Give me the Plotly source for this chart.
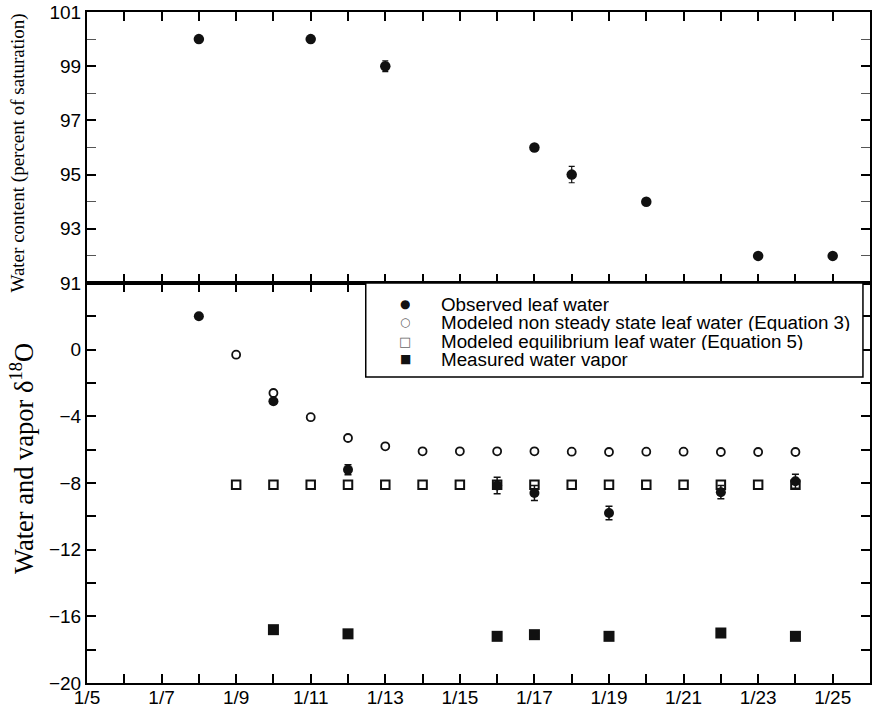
import plotly.graph_objects as go

# ---------------- data ----------------
# Top panel: leaf water content (percent of saturation)
wc_dates = ["1/8", "1/11", "1/13", "1/17", "1/18", "1/20", "1/23", "1/25"]
wc_values = [100.0, 100.0, 99.0, 96.0, 95.0, 94.0, 92.0, 92.0]
wc_err = [0.05, 0.05, 0.2, 0.05, 0.3, 0.05, 0.05, 0.05]

# Bottom panel: delta 18O
obs_dates = ["1/8", "1/10", "1/12", "1/16", "1/17", "1/19", "1/22", "1/24"]
obs_values = [2.0, -3.1, -7.2, -8.15, -8.6, -9.8, -8.55, -7.9]
obs_err = [0.1, 0.15, 0.3, 0.5, 0.45, 0.4, 0.4, 0.42]

nss_dates = ["1/9", "1/10", "1/11", "1/12", "1/13", "1/14", "1/15", "1/16",
             "1/17", "1/18", "1/19", "1/20", "1/21", "1/22", "1/23", "1/24"]
nss_values = [-0.3, -2.6, -4.05, -5.3, -5.8, -6.1, -6.1, -6.1,
              -6.1, -6.12, -6.14, -6.12, -6.12, -6.14, -6.14, -6.14]

eq_dates = ["1/9", "1/10", "1/11", "1/12", "1/13", "1/14", "1/15", "1/16",
            "1/17", "1/18", "1/19", "1/20", "1/21", "1/22", "1/23", "1/24"]
eq_values = [-8.1, -8.1, -8.1, -8.1, -8.1, -8.1, -8.1, -8.1,
             -8.1, -8.1, -8.1, -8.1, -8.1, -8.1, -8.1, -8.1]

vap_dates = ["1/10", "1/12", "1/16", "1/17", "1/19", "1/22", "1/24"]
vap_values = [-16.8, -17.05, -17.2, -17.1, -17.2, -17.0, -17.2]

x_tick_labels = ["1/5", "1/7", "1/9", "1/11", "1/13", "1/15", "1/17",
                 "1/19", "1/21", "1/23", "1/25"]
wc_tick_labels = ["91", "93", "95", "97", "99", "101"]
d18_tick_labels = ["-20", "-16", "-12", "-8", "-4", "0"]

legend_labels = ["Observed leaf water",
                 "Modeled non steady state leaf water (Equation 3)",
                 "Modeled equilibrium leaf water (Equation 5)",
                 "Measured water vapor"]


def day(s):
    return int(s.split("/")[1])


INK = "#111111"
SANS = "Liberation Sans, Arial, sans-serif"
SERIF = "Liberation Serif, Times New Roman, serif"

fig = go.Figure()

# top panel
fig.add_trace(go.Scatter(
    x=[day(d) for d in wc_dates], y=wc_values, mode="markers",
    name="Water content", xaxis="x2", yaxis="y2",
    marker=dict(symbol="circle", size=10.5, color=INK, line=dict(width=0)),
    error_y=dict(type="data", array=wc_err, visible=True, color=INK,
                 thickness=1.2, width=3),
    showlegend=False))

# bottom panel
fig.add_trace(go.Scatter(
    x=[day(d) for d in eq_dates], y=eq_values, mode="markers",
    name=legend_labels[2],
    marker=dict(symbol="square-open", size=8.5, color=INK, line=dict(width=2, color=INK)),
    showlegend=False))
fig.add_trace(go.Scatter(
    x=[day(d) for d in nss_dates], y=nss_values, mode="markers",
    name=legend_labels[1],
    marker=dict(symbol="circle-open", size=8, color=INK, line=dict(width=1.8, color=INK)),
    showlegend=False))
fig.add_trace(go.Scatter(
    x=[day(d) for d in obs_dates], y=obs_values, mode="markers",
    name=legend_labels[0],
    marker=dict(symbol="circle", size=10, color=INK, line=dict(width=0)),
    error_y=dict(type="data", array=obs_err, visible=True, color=INK,
                 thickness=1.5, width=3.5),
    showlegend=False))
fig.add_trace(go.Scatter(
    x=[day(d) for d in vap_dates], y=vap_values, mode="markers",
    name=legend_labels[3],
    marker=dict(symbol="square", size=11, color=INK, line=dict(width=0)),
    showlegend=False))

tickfont = dict(family=SANS, size=19, color="black")
x_tickvals = [day(s) for s in x_tick_labels]

common_x = dict(
    range=[5, 26], showline=True, linewidth=2, linecolor="black", mirror="ticks",
    ticks="inside", ticklen=9, tickwidth=1.5, tickcolor="black",
    tickmode="array", tickvals=x_tickvals, ticktext=x_tick_labels,
    minor=dict(tickmode="linear", tick0=5, dtick=1, ticks="inside", ticklen=9,
               tickwidth=1.5, tickcolor="black"),
    showgrid=False, zeroline=False, tickfont=tickfont, automargin=False,
)

DOM = 400 / 671

fig.update_layout(
    width=873, height=710,
    margin=dict(l=87, r=3, t=12, b=27, autoexpand=False),
    paper_bgcolor="white", plot_bgcolor="white",
    showlegend=False,
    xaxis=dict(common_x, anchor="y", domain=[0, 1], ticklabelstandoff=-4),
    xaxis2=dict(common_x, anchor="y2", matches="x", showticklabels=False),
    yaxis=dict(domain=[0, DOM], range=[-20, 4], showline=True, linewidth=2,
               linecolor="black", mirror="ticks", ticks="inside", ticklen=9,
               tickwidth=1.5, tickcolor="black", tickmode="array",
               tickvals=[float(v) for v in d18_tick_labels],
               ticktext=[t.replace("-", "\u2212") for t in d18_tick_labels],
               minor=dict(tickmode="linear", tick0=0, dtick=2, ticks="inside",
                          ticklen=9, tickwidth=1.5, tickcolor="black"),
               showgrid=False, zeroline=False, tickfont=tickfont, automargin=False),
    yaxis2=dict(domain=[DOM, 1], range=[91, 101], showline=True, linewidth=2,
                linecolor="black", mirror="ticks", ticks="inside", ticklen=9,
                tickwidth=1.5, tickcolor="black", tickmode="array",
                tickvals=[float(v) for v in wc_tick_labels], ticktext=wc_tick_labels,
                minor=dict(tickmode="linear", tick0=91, dtick=1, ticks="inside",
                           ticklen=9, tickwidth=1.2, tickcolor="#555555"),
                showgrid=False, zeroline=False, tickfont=tickfont, automargin=False),
)

# legend box (manual, to match the tight line spacing of the original)
fig.add_shape(type="rect", xref="x domain", yref="y domain",
              x0=0.356, x1=0.991, y0=0.765, y1=1.0,
              line=dict(color="black", width=1.5), fillcolor="white", layer="above")

legend_glyphs = [("\u25CF", INK, 12), ("\u25CB", "#666666", 12),
                 ("\u25A1", "#666666", 13), ("\u25A0", INK, 12)]
legend_y = [0.9468, 0.9013, 0.8538, 0.8088]
for label, (g, col, gs), yy in zip(legend_labels, legend_glyphs, legend_y):
    fig.add_annotation(xref="x domain", yref="y domain", x=0.4066, y=yy,
                       text=g, showarrow=False, xanchor="center", yanchor="middle",
                       height=16,
                       font=dict(family="DejaVu Sans", size=gs, color=col))
    fig.add_annotation(xref="x domain", yref="y domain", x=0.450, y=yy,
                       text=label, showarrow=False, xanchor="left", yanchor="middle",
                       height=17,
                       font=dict(family=SANS, size=18.8, color="black"))

# axis titles
fig.add_annotation(xref="paper", yref="paper", x=(17 - 87) / 783, y=(683 - 153.5) / 671,
                   text="Water content (percent of saturation)", textangle=-90,
                   showarrow=False, xanchor="center", yanchor="middle",
                   font=dict(family=SERIF, size=19, color="black"))
fig.add_annotation(xref="paper", yref="paper", x=(22 - 87) / 783, y=(683 - 459) / 671,
                   text="Water and vapor \u03B4<sup>18</sup>O", textangle=-90,
                   showarrow=False, xanchor="center", yanchor="middle",
                   font=dict(family=SERIF, size=26.5, color="black"))

fig.write_html(
    "out.html",
    config={"displayModeBar": False},
    post_script="document.body.style.margin='0';document.body.style.overflow='hidden';",
)
